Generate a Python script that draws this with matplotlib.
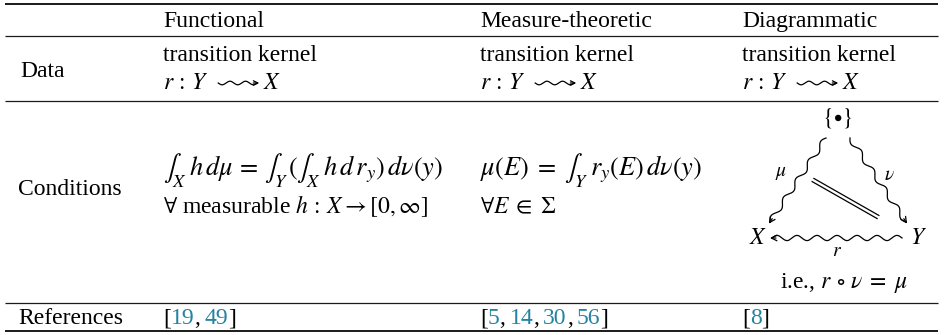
import numpy as np
import matplotlib
matplotlib.use("Agg")
import matplotlib.pyplot as plt
from matplotlib import transforms

plt.rcParams['font.family'] = ['Liberation Serif', 'DejaVu Serif']
plt.rcParams['mathtext.fontset'] = 'stix'

# table content
col_headers = ["Functional", "Measure-theoretic", "Diagrammatic"]
row_labels = ["Data", "Conditions", "References"]
data_kernel = "transition kernel"
data_map = (r"$r\,:\,Y$", r"$X$")      # r : Y ~~> X, squiggle drawn between
cond_functional = [r"$\int_X\;h\,d\mu\,=\,\int_Y\,(\int_X\;h\,d\,r_y)\,d\nu(y)$",
                   r"$\forall$ measurable $h\,:\,X \to [0,\infty]$"]
cond_measure = [r"$\mu(E)\;=\;\int_Y\;r_y(E)\,d\nu(y)$",
                r"$\forall E\;\in\;\Sigma$"]
cond_diagram = r"i.e., $r\,\circ\,\nu\;=\;\mu$"
refs_functional = [19, 49]
refs_measure = [5, 14, 30, 56]
refs_diagram = [8]

W, H = 945, 335
FS = 17
FS_MATH = 19
LINK = '#2483a0'

fig = plt.figure(figsize=(W / 100, H / 100), dpi=100)
ax = fig.add_axes([0, 0, 1, 1])
ax.set_xlim(0, W)
ax.set_ylim(H, 0)
ax.axis('off')
rend = fig.canvas.get_renderer()

col_x = [18, 163, 480, 742]
rule_y = [4, 36, 101, 303, 331]
for i, y in enumerate(rule_y):
    lw = 1.4 if i in (0, len(rule_y) - 1) else 0.9
    ax.plot([5, 938], [y, y], color='#1a1a1a', lw=lw, solid_capstyle='butt')


def put(x, y, s, **kw):
    fs = kw.pop('fontsize', FS)
    return ax.text(x, y, s, fontsize=fs, va='baseline', ha='left', **kw)


def wavy(p0, p1, n_waves, amp=2.6, head=True, lw=0.9, ms=10):
    p0, p1 = np.array(p0, float), np.array(p1, float)
    d = p1 - p0
    L = np.hypot(*d)
    u = d / L
    nrm = np.array([-u[1], u[0]])
    t = np.linspace(0, 1, 400)
    off = amp * np.sin(2 * np.pi * n_waves * t)
    pts = p0[None, :] + t[:, None] * d[None, :] + off[:, None] * nrm[None, :]
    ax.plot(pts[:, 0], pts[:, 1], color='black', lw=lw)
    if head:
        ax.annotate('', xy=p1 + u * 2, xytext=p1 - u * 4,
                    arrowprops=dict(arrowstyle='->', lw=lw, color='black',
                                    shrinkA=0, shrinkB=0, mutation_scale=ms))


def squig_map(x, y):
    a = put(x, y, data_map[0])
    ex = a.get_window_extent(renderer=rend)
    x0 = x + ex.width + 10
    x1 = x0 + 39
    wavy((x0, y - 6), (x1, y - 6), 2.5, amp=1.8, lw=0.9, ms=8)
    put(x1 + 6, y, data_map[1])


# header
for x, h in zip(col_x[1:], col_headers):
    put(x, 27, h)

# data row
put(20, 77, row_labels[0])
for x in col_x[1:]:
    put(x, 61, data_kernel)
    squig_map(x, 89)

# conditions row
put(col_x[0], 195, row_labels[1])
put(col_x[1], 175, cond_functional[0], fontsize=FS_MATH)
put(col_x[1], 213, cond_functional[1])
put(col_x[2], 175, cond_measure[0], fontsize=FS_MATH)
put(col_x[2], 213, cond_measure[1])
put(780, 288, cond_diagram)


# references row: black brackets, coloured numbers
def cite(x, y, nums):
    pieces = [("[", 'black', 0)]
    for k, n in enumerate(nums):
        pieces.append((str(n), LINK, 0))
        if k < len(nums) - 1:
            pieces.append((",", 'black', 4))
    pieces.append(("]", 'black', 0))
    t = ax.transData
    for s, c, gap in pieces:
        txt = ax.text(x, y, s, color=c, fontsize=FS, va='baseline', ha='left', transform=t)
        ex = txt.get_window_extent(renderer=rend)
        t = transforms.offset_copy(txt.get_transform(), x=ex.width + gap, units='dots')


put(col_x[0], 324, row_labels[2])
cite(col_x[1], 324, refs_functional)
cite(col_x[2], 324, refs_measure)
cite(col_x[3], 324, refs_diagram)

# diagram: {*} -> X (mu), {*} -> Y (nu), Y -> X (r)
top = (837, 118)
Xn = (758, 238)
Yn = (918, 238)
ax.text(*top, r"$\{\bullet\}$", fontsize=FS, ha='center', va='center')
ax.text(*Xn, r"$X$", fontsize=FS, ha='center', va='center')
ax.text(*Yn, r"$Y$", fontsize=FS, ha='center', va='center')
wavy((826, 138), (770, 222), 4.5)
wavy((850, 138), (906, 222), 4.5)
wavy((902, 238), (772, 238), 6.5)
ax.text(781, 173, r"$\mu$", fontsize=FS - 3, ha='center', va='center')
ax.text(889, 176, r"$\nu$", fontsize=FS - 3, ha='center', va='center')
ax.text(837, 251, r"$r$", fontsize=FS - 3, ha='center', va='center')
# equality between the two composites
p0 = np.array([813.0, 180.0])
p1 = np.array([878.0, 217.0])
d = (p1 - p0) / np.hypot(*(p1 - p0))
for off in (-1.8, 1.8):
    nrm = np.array([-d[1], d[0]]) * off
    ax.plot([p0[0] + nrm[0], p1[0] + nrm[0]], [p0[1] + nrm[1], p1[1] + nrm[1]],
            color='black', lw=0.9)

fig.savefig("out.png", dpi=100)
